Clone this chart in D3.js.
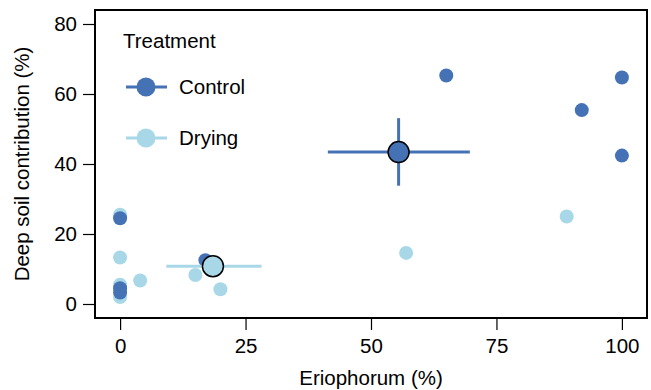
<!DOCTYPE html>
<html>
<head>
<meta charset="utf-8">
<script src="https://cdn.jsdelivr.net/npm/d3@7"></script>
<style>
  body { margin: 0; background: #fff; }
  text { font-family: "Liberation Sans", Arial, sans-serif; fill: #000; }
</style>
</head>
<body>
<svg id="chart" width="651" height="390"></svg>
<script>

// individual samples: Eriophorum cover (%) vs deep soil contribution (%)
var control_x = [0, 0, 0, 17, 65, 100, 92, 100];
var control_y = [24.5, 4.5, 3.3, 12.5, 65.3, 64.7, 55.4, 42.4];
var drying_x = [0, 0, 0, 0, 4, 15, 20, 57, 89];
var drying_y = [25.5, 13.3, 5.5, 2, 6.7, 8.3, 4.2, 14.6, 25];

// treatment means with error ranges
var treatments = ['Control', 'Drying'];
var mean_x = [55.5, 18.5];
var mean_y = [43.4, 10.8];
var x_lo = [41.4, 9.2];
var x_hi = [69.7, 28.2];
var y_lo = [33.8, 8.5];
var y_hi = [53.1, 13.1];

var x_ticks = [0, 25, 50, 75, 100];
var y_ticks = [0, 20, 40, 60, 80];

var colours = { Control: '#4472b4', Drying: '#a8d8e8' };
var font_px = '20.5px';

var box = { left: 95, top: 10, right: 647, bottom: 318 };

var x_scale = d3.scaleLinear().domain([-5, 105]).range([box.left, box.right]);
var y_scale = d3.scaleLinear().domain([-4, 84]).range([box.bottom, box.top]);

var svg = d3.select('#chart');

// axes, drawn outside the box like base R
var x_axis = svg.append('g')
  .attr('transform', 'translate(0,' + box.bottom + ')')
  .call(d3.axisBottom(x_scale).tickValues(x_ticks).tickSize(12).tickPadding(8));

var y_axis = svg.append('g')
  .attr('transform', 'translate(' + box.left + ',0)')
  .call(d3.axisLeft(y_scale).tickValues(y_ticks).tickSize(12).tickPadding(6));

[x_axis, y_axis].forEach(function(ax) {
  ax.select('.domain').remove();
  ax.selectAll('line').style('stroke', '#000').style('stroke-width', '1.2px');
  ax.selectAll('text').style('font-size', font_px)
    .style('font-family', '"Liberation Sans", Arial, sans-serif');
});

svg.append('rect')
  .attr('x', box.left)
  .attr('y', box.top)
  .attr('width', box.right - box.left)
  .attr('height', box.bottom - box.top)
  .style('fill', 'none')
  .style('stroke', '#000')
  .style('stroke-width', '2px');

// axis titles
svg.append('text')
  .attr('x', (box.left + box.right) / 2)
  .attr('y', 385)
  .attr('text-anchor', 'middle')
  .style('font-size', font_px)
  .text('Eriophorum (%)');

svg.append('text')
  .attr('transform', 'translate(29,' + y_scale(40) + ') rotate(-90)')
  .attr('text-anchor', 'middle')
  .style('font-size', font_px)
  .text('Deep soil contribution (%)');

// individual points, drying underneath
var plot = svg.append('g');

plot.selectAll('.dry_pt')
  .data(d3.zip(drying_x, drying_y))
  .enter()
  .append('circle')
  .attr('class', 'dry_pt')
  .attr('cx', function(d) { return x_scale(d[0]); })
  .attr('cy', function(d) { return y_scale(d[1]); })
  .attr('r', 7)
  .style('fill', colours.Drying);

plot.selectAll('.ctrl_pt')
  .data(d3.zip(control_x, control_y))
  .enter()
  .append('circle')
  .attr('class', 'ctrl_pt')
  .attr('cx', function(d) { return x_scale(d[0]); })
  .attr('cy', function(d) { return y_scale(d[1]); })
  .attr('r', 7)
  .style('fill', colours.Control);

// means with error bars
var means = treatments.map(function(t, i) {
  return { name: t, x: mean_x[i], y: mean_y[i], x0: x_lo[i], x1: x_hi[i], y0: y_lo[i], y1: y_hi[i] };
});

var mean_g = plot.selectAll('.mean')
  .data(means)
  .enter()
  .append('g')
  .attr('class', 'mean');

mean_g.append('line')
  .attr('x1', function(d) { return x_scale(d.x0); })
  .attr('x2', function(d) { return x_scale(d.x1); })
  .attr('y1', function(d) { return y_scale(d.y); })
  .attr('y2', function(d) { return y_scale(d.y); })
  .style('stroke', function(d) { return colours[d.name]; })
  .style('stroke-width', '3px');

mean_g.append('line')
  .attr('x1', function(d) { return x_scale(d.x); })
  .attr('x2', function(d) { return x_scale(d.x); })
  .attr('y1', function(d) { return y_scale(d.y0); })
  .attr('y2', function(d) { return y_scale(d.y1); })
  .style('stroke', function(d) { return colours[d.name]; })
  .style('stroke-width', '3px');

mean_g.append('circle')
  .attr('cx', function(d) { return x_scale(d.x); })
  .attr('cy', function(d) { return y_scale(d.y); })
  .attr('r', 10.5)
  .style('fill', function(d) { return colours[d.name]; })
  .style('stroke', '#000')
  .style('stroke-width', '1.5px');

// legend
var legend = svg.append('g').attr('transform', 'translate(123,0)');

legend.append('text')
  .attr('x', 0)
  .attr('y', 48)
  .style('font-size', font_px)
  .text('Treatment');

var leg_items = legend.selectAll('.leg_item')
  .data(treatments)
  .enter()
  .append('g')
  .attr('class', 'leg_item')
  .attr('transform', function(d, i) { return 'translate(0,' + (87 + i * 51) + ')'; });

leg_items.append('line')
  .attr('x1', 3)
  .attr('x2', 44)
  .style('stroke', function(d) { return colours[d]; })
  .style('stroke-width', '3px');

leg_items.append('circle')
  .attr('cx', 23)
  .attr('r', 9.5)
  .style('fill', function(d) { return colours[d]; });

leg_items.append('text')
  .attr('x', 56)
  .attr('y', 7)
  .style('font-size', font_px)
  .text(function(d) { return d; });

</script>
</body>
</html>
